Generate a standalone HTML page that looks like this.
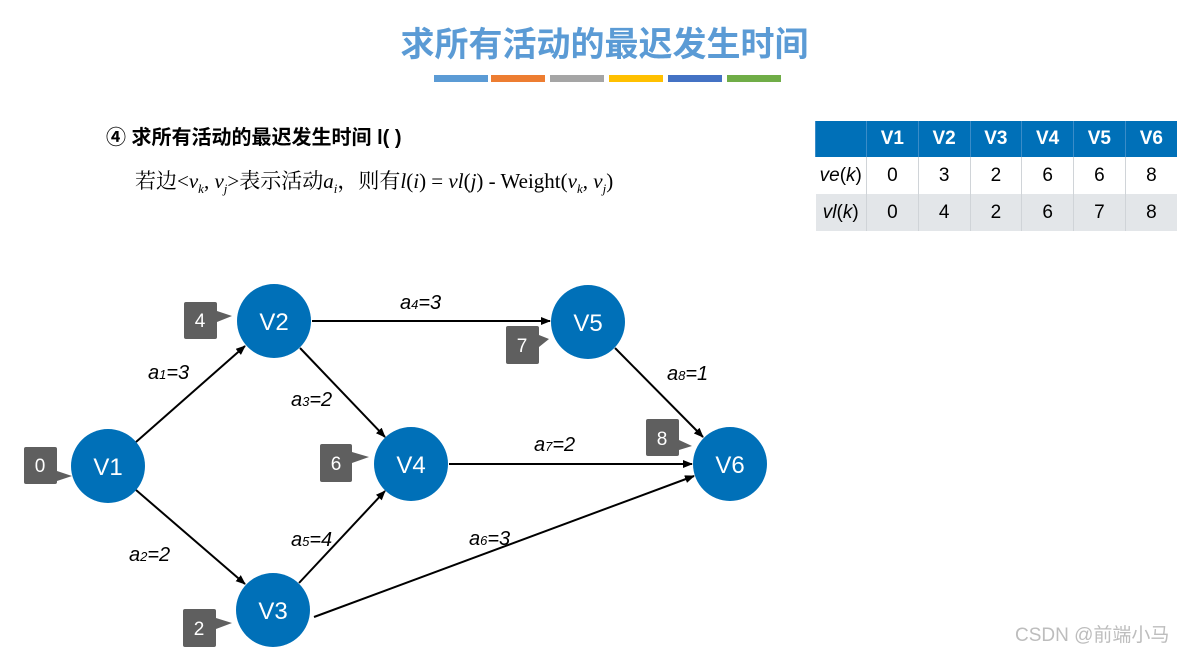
<!DOCTYPE html>
<html><head><meta charset="utf-8"><style>
body{margin:0;width:1193px;height:654px;background:#fff;overflow:hidden;position:relative;font-family:"Liberation Sans","Noto Sans CJK SC",sans-serif}
.t{position:absolute;left:8px;width:1193px;top:17px;text-align:center;font-size:34px;font-weight:bold;color:#5b9bd5}
.bar{position:absolute;top:75px;height:7px;width:54px}
table{position:absolute;left:815px;top:121px;border-collapse:collapse;font-size:19px;table-layout:fixed;width:362px}
td{height:37px;text-align:center;padding:0;border-left:1px solid #d0d4d8}
tr.h td{background:#0070b8;color:#fff;font-weight:bold;border-left:1px solid #3a8cc8;height:36px}
tr.g td{background:#e3e6e9}
</style></head><body>
<div class="t">求所有活动的最迟发生时间</div>
<div class="bar" style="left:434px;background:#5b9bd5"></div>
<div class="bar" style="left:491px;background:#ed7d31"></div>
<div class="bar" style="left:550px;background:#a5a5a5"></div>
<div class="bar" style="left:609px;background:#ffc000"></div>
<div class="bar" style="left:668px;background:#4472c4"></div>
<div class="bar" style="left:727px;background:#70ad47"></div>
<div style="position:absolute;left:106px;top:121px;font-size:20px;font-weight:bold">④ 求所有活动的最迟发生时间 l( )</div>
<div style="position:absolute;left:135px;top:165px;font-size:21px;font-family:'Liberation Serif','Noto Serif CJK SC',serif">若边&lt;<i>v<sub style="font-size:13px">k</sub></i>, <i>v<sub style="font-size:13px">j</sub></i>&gt;表示活动<i>a<sub style="font-size:13px">i</sub></i>，则有<i>l</i>(<i>i</i>) = <i>vl</i>(<i>j</i>) - Weight(<i>v<sub style="font-size:13px">k</sub></i>, <i>v<sub style="font-size:13px">j</sub></i>)</div>
<table>
<colgroup><col style="width:51px"><col><col><col><col><col><col></colgroup>
<tr class="h"><td></td><td>V1</td><td>V2</td><td>V3</td><td>V4</td><td>V5</td><td>V6</td></tr>
<tr><td style="border-left:none"><i>ve</i>(<i>k</i>)</td><td>0</td><td>3</td><td>2</td><td>6</td><td>6</td><td>8</td></tr>
<tr class="g"><td style="border-left:none"><i>vl</i>(<i>k</i>)</td><td>0</td><td>4</td><td>2</td><td>6</td><td>7</td><td>8</td></tr>
</table>
<svg width="1193" height="654" style="position:absolute;left:0;top:0">
<defs><marker id="a" markerWidth="10" markerHeight="8" refX="9" refY="4" orient="auto" markerUnits="userSpaceOnUse"><path d="M0,0L10,4L0,8z" fill="#000"/></marker></defs>
<g stroke="#000" stroke-width="2" marker-end="url(#a)">
<line x1="136" y1="442" x2="245" y2="346"/>
<line x1="136" y1="490" x2="245" y2="584"/>
<line x1="312" y1="321" x2="550" y2="321"/>
<line x1="300" y1="348" x2="385" y2="437"/>
<line x1="299" y1="583" x2="385" y2="491"/>
<line x1="449" y1="464" x2="692" y2="464"/>
<line x1="314" y1="617" x2="694" y2="476"/>
<line x1="615" y1="348" x2="703" y2="437"/>
</g>
<g fill="#0070b8">
<circle cx="108" cy="466" r="37"/><circle cx="274" cy="321" r="37"/><circle cx="273" cy="610" r="37"/>
<circle cx="411" cy="464" r="37"/><circle cx="588" cy="322" r="37"/><circle cx="730" cy="464" r="37"/>
</g>
<g fill="#fff" font-size="24" text-anchor="middle" font-family="Liberation Sans,sans-serif">
<text x="108" y="475">V1</text><text x="274" y="330">V2</text><text x="273" y="619">V3</text>
<text x="411" y="473">V4</text><text x="588" y="331">V5</text><text x="730" y="473">V6</text>
</g>
<g fill="#5f5f5f">
<rect x="24" y="447" width="33" height="37" rx="2"/><path d="M57,471L72,476L57,481z"/>
<rect x="184" y="302" width="33" height="37" rx="2"/><path d="M217,311L232,316L217,322z"/>
<rect x="506" y="326" width="33" height="38" rx="2"/><path d="M539,335L549,339L539,347z"/>
<rect x="320" y="444" width="32" height="38" rx="2"/><path d="M352,452L369,457L352,463z"/>
<rect x="646" y="419" width="33" height="37" rx="2"/><path d="M679,440L692,446L679,450z"/>
<rect x="183" y="609" width="33" height="38" rx="2"/><path d="M216,618L232,623L216,629z"/>
</g>
<g fill="#fff" font-size="19" text-anchor="middle" font-family="Liberation Sans,sans-serif">
<text x="40" y="472">0</text><text x="200" y="327">4</text><text x="522" y="352">7</text>
<text x="336" y="470">6</text><text x="662" y="445">8</text><text x="199" y="635">2</text>
</g>
<g font-size="20" font-style="italic" font-family="Liberation Sans,sans-serif">
<text x="148" y="379">a<tspan font-size="13">1</tspan>=3</text>
<text x="129" y="561">a<tspan font-size="13">2</tspan>=2</text>
<text x="291" y="406">a<tspan font-size="13">3</tspan>=2</text>
<text x="400" y="309">a<tspan font-size="13">4</tspan>=3</text>
<text x="291" y="546">a<tspan font-size="13">5</tspan>=4</text>
<text x="469" y="545">a<tspan font-size="13">6</tspan>=3</text>
<text x="534" y="451">a<tspan font-size="13">7</tspan>=2</text>
<text x="667" y="380">a<tspan font-size="13">8</tspan>=1</text>
</g>
<text x="1015" y="641" font-size="19" fill="#bdbdbd" font-family="Liberation Sans,Noto Sans CJK SC,sans-serif">CSDN @前端小马</text>
</svg>
</body></html>
